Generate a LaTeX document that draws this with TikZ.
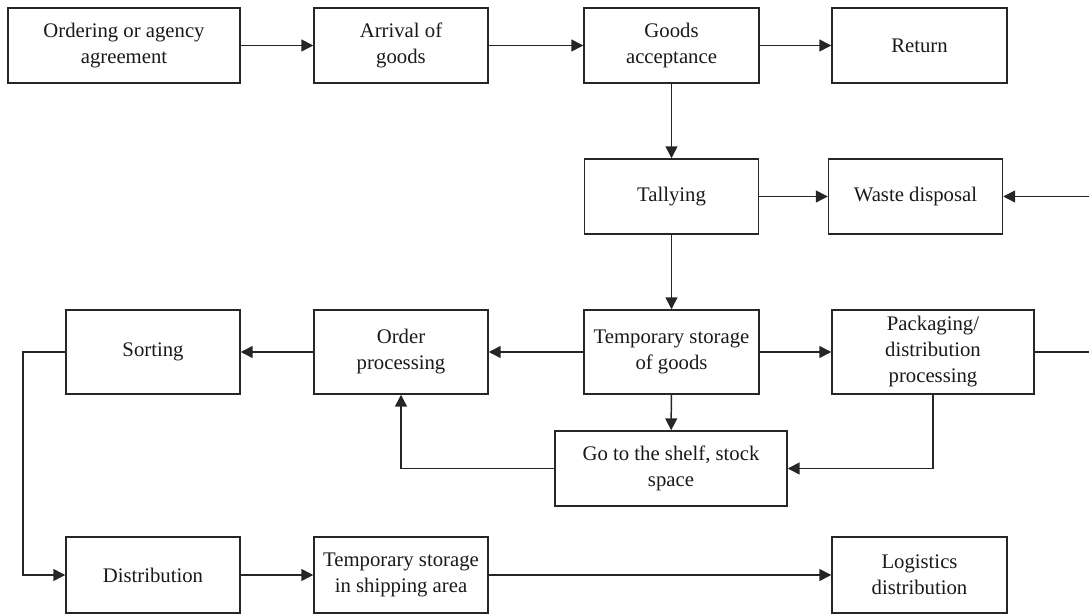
\documentclass[tikz,border=0pt]{standalone}
\usepackage{fontspec}
\setmainfont{Liberation Serif}
\usetikzlibrary{arrows.meta}
\begin{document}
\begin{tikzpicture}[x=0.02cm,y=-0.02cm,
  box/.style={draw=black!85,line width=0.85pt,align=center,inner sep=2pt,
    minimum width=3.48cm,minimum height=1.5cm,
    font=\fontsize{11.8}{14.8}\selectfont,text=black!90},
  tall/.style={minimum height=1.68cm},
  link/.style={draw=black!85,line width=0.85pt,-{Triangle[length=6.8pt,width=6.8pt]}},
  plain/.style={draw=black!85,line width=0.85pt}]
\useasboundingbox (0,0) rectangle (1089,614);

% top row
\node[box,minimum width=4.64cm] (ord) at (124,45.5) {Ordering or agency\\agreement};
\node[box] (arr) at (401,45.5) {Arrival of\\goods};
\node[box,minimum width=3.5cm] (acc) at (671.5,45.5) {Goods\\acceptance};
\node[box,minimum width=3.5cm] (ret) at (919.5,45.5) {Return};

% second row
\node[box] (tal) at (671.5,196.5) {Tallying};
\node[box] (waste) at (915.5,196.5) {Waste disposal};

% third row
\node[box,tall] (sort) at (153,352) {Sorting};
\node[box,tall] (ordp) at (401,352) {Order\\processing};
\node[box,tall,minimum width=3.5cm] (temp) at (671.5,352) {Temporary storage\\of goods};
\node[box,tall,minimum width=4.04cm] (pack) at (933,352) {Packaging/\\distribution\\processing};

% shelf
\node[box,minimum width=4.64cm] (shelf) at (671,468.5) {Go to the shelf, stock\\space};

% bottom row
\node[box,minimum height=1.52cm] (dist) at (153,575) {Distribution};
\node[box,minimum height=1.52cm] (ship) at (401,575) {Temporary storage\\in shipping area};
\node[box,minimum height=1.52cm,minimum width=3.5cm] (log) at (919.5,575) {Logistics\\distribution};

% helper points
\coordinate (sortleft) at (23,352);
\coordinate (rimlow) at (1095,352);
\coordinate (rimhigh) at (1095,196.5);

% connectors
\draw[link] (ord) -- (arr);
\draw[link] (arr) -- (acc);
\draw[link] (acc) -- (ret);
\draw[link] (acc) -- (tal);
\draw[link] (tal) -- (waste);
\draw[link] (tal) -- (temp);
\draw[link] (temp) -- (ordp);
\draw[link] (ordp) -- (sort);
\draw[link] (temp) -- (pack);
\draw[link] (temp) -- (shelf);
\draw[link] (pack.south) |- (shelf.east);
\draw[link] (shelf.west) -| (ordp.south);
\draw[link] (sort.west) -- (sortleft) |- (dist.west);
\draw[link] (dist) -- (ship);
\draw[link] (ship) -- (log);
\draw[link] (pack.east) -- (rimlow) -- (rimhigh) -- (waste.east);
\end{tikzpicture}
\end{document}
